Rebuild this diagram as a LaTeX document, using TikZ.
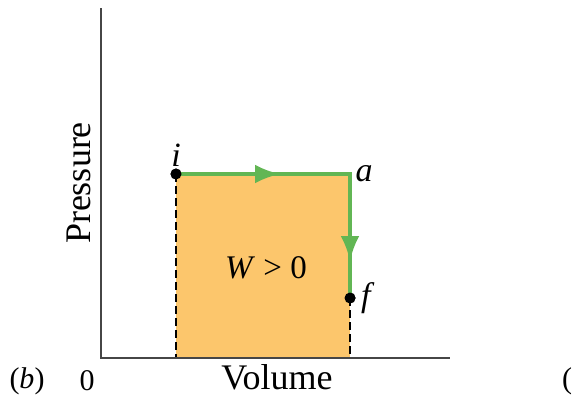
\documentclass[tikz,border=0pt]{standalone}
\usepackage{fontspec}
\setmainfont{Liberation Serif}
\usepackage{tikz}
\usetikzlibrary{arrows.meta, positioning, decorations.markings}

\definecolor{workfill}{RGB}{252,198,108}
\definecolor{pathgreen}{RGB}{98,182,84}
\definecolor{axisgray}{RGB}{70,70,70}

\begin{document}
\begin{tikzpicture}[
        x=1pt, y=-1pt,
        >=Latex,
        every node/.style={font=\fontsize{30}{34}\selectfont},
        axislabel/.style={font=\fontsize{36}{40}\selectfont},
        statelabel/.style={font=\fontsize{34}{38}\selectfont\itshape},
        statedot/.style={circle, fill=black, inner sep=0pt, minimum size=11pt},
        drop/.style={dashed, line width=1.8pt, dash pattern=on 8pt off 4pt},
        flow/.style={pathgreen, line width=4pt, line join=miter,
            postaction={decorate, decoration={markings,
                mark=at position 104pt with {\arrow[pathgreen]{Latex[length=25pt, width=19pt]}},
                mark=at position 261pt with {\arrow[pathgreen]{Latex[length=25pt, width=19pt]}}}}}
    ]
        \useasboundingbox (0,0) rectangle (572,397);

        % axes
        \coordinate (O) at (101,358);
        \coordinate (Ytop) at (101,8);
        \coordinate (Xend) at (450,358);

        % states
        \node[statedot] (i) at (176,174) {};
        \coordinate (a) at (350,174);
        \node[statedot] (f) at (350,298) {};
        \coordinate (ib) at (176,358);
        \coordinate (fb) at (350,358);

        \fill[workfill] (i.center) rectangle (fb);
        \draw[drop] (i.center) -- (ib);
        \draw[drop] (f.center) -- (fb);

        \draw[axisgray, line width=2pt] (Ytop) -- (O) -- (Xend);

        \draw[flow] (i.center) -- (a) -- (f.center);
        \node[statedot] at (i) {};
        \node[statedot] at (f) {};

        \node[statelabel, above=-2pt of i] (il) {i};
        \node[statelabel, right=2pt of a] (al) {a};
        \node[statelabel, right=2pt of f] (fl) {f};
        \node[font=\fontsize{33}{38}\selectfont] (W) at (266,268) {\textit{W} > 0};

        \node[axislabel, rotate=90] (P) at (79,183) {Pressure};
        \node[axislabel, inner sep=1pt] (V) at (277,377) {Volume};
        \node (zero) at (87,381) {0};
        \node (b) at (27,381) {(\textit{b})};
        \node (c) at (567,381) {(};
    \end{tikzpicture}
\end{document}
